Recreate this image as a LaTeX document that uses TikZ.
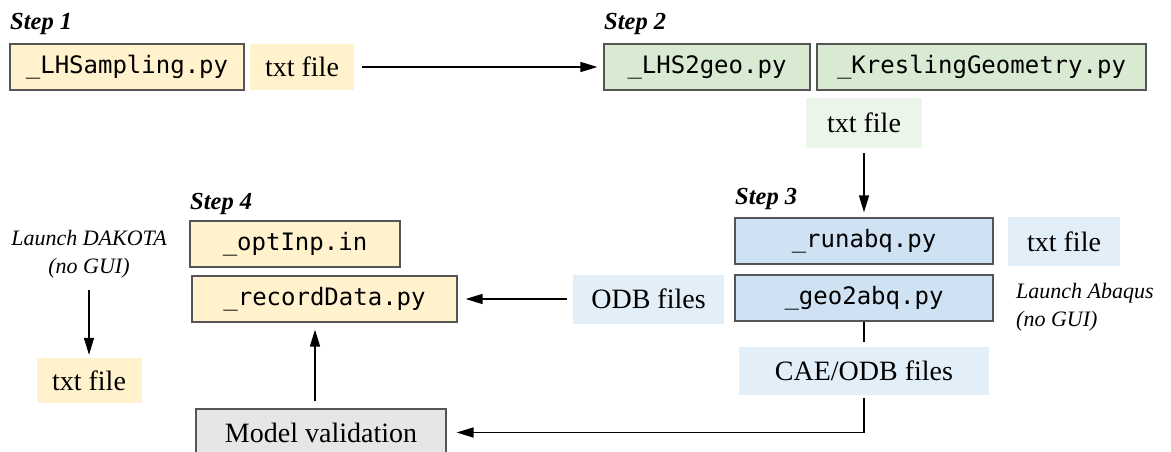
\documentclass[tikz,border=0pt]{standalone}
\usepackage{fontspec}
\setmainfont{Liberation Serif}
\setmonofont{DejaVu Sans Mono}
\usetikzlibrary{arrows.meta}
\definecolor{yelbox}{HTML}{FFF2CC}
\definecolor{yeltxt}{HTML}{FFF2CC}
\definecolor{grnbox}{HTML}{D9EAD3}
\definecolor{grntxt}{HTML}{EBF5E9}
\definecolor{blubox}{HTML}{CFE2F3}
\definecolor{blutxt}{HTML}{E2EEF8}
\definecolor{grybox}{HTML}{E6E6E6}
\definecolor{edgegray}{HTML}{555555}
\begin{document}
\begin{tikzpicture}[x=1pt,y=-1pt,
  codebox/.style={draw=edgegray, line width=1.2pt, inner sep=0pt,
    font=\fontsize{24}{28}\selectfont\ttfamily},
  filebox/.style={inner sep=0pt, font=\fontsize{28}{31}\selectfont},
  conn/.style={line width=1.5pt, -{Triangle[length=17pt,width=10pt]}},
  plainline/.style={line width=1.5pt},
  steplabel/.style={anchor=base west, inner sep=0pt,
    font=\fontsize{24.5}{28}\selectfont\bfseries\itshape},
  note/.style={inner sep=0pt, font=\fontsize{22}{28}\selectfont\itshape}
]
\useasboundingbox (0,0) rectangle (1171,452);

% Step 1
\node[steplabel] (s1) at (10,30) {Step 1};
\node[codebox, fill=yelbox, minimum width=234, minimum height=46] (lhs) at (127,67) {\_LHSampling.py};
\node[filebox, fill=yeltxt, minimum width=104, minimum height=46] (txt1) at (302,67) {txt file};

% Step 2
\node[steplabel] (s2) at (604,30) {Step 2};
\node[codebox, fill=grnbox, minimum width=206, minimum height=46] (geo) at (707,67) {\_LHS2geo.py};
\node[codebox, fill=grnbox, minimum width=329, minimum height=46] (kres) at (981.5,67) {\_KreslingGeometry.py};
\node[filebox, fill=grntxt, minimum width=116, minimum height=50] (txt2) at (864,123) {txt file};

% Step 3
\node[steplabel] (s3) at (735,204) {Step 3};
\node[codebox, fill=blubox, minimum width=258, minimum height=46] (run) at (864,241) {\_runabq.py};
\node[filebox, fill=blutxt, minimum width=112, minimum height=49] (txt3) at (1064,241.5) {txt file};
\node[codebox, fill=blubox, minimum width=258, minimum height=46] (g2a) at (864,298) {\_geo2abq.py};
\node[note, anchor=north west, align=left] (abq) at (1016,283) {Launch Abaqus\\(no GUI)};
\node[filebox, fill=blutxt, minimum width=151, minimum height=49] (odb) at (648.5,299) {ODB files};
\node[filebox, fill=blutxt, minimum width=250, minimum height=48] (cae) at (864,371) {CAE/ODB files};

% Step 4
\node[steplabel] (s4) at (190,209) {Step 4};
\node[codebox, fill=yelbox, minimum width=210, minimum height=46] (opt) at (295,244) {\_optInp.in};
\node[codebox, fill=yelbox, minimum width=265, minimum height=46] (rec) at (324.5,299) {\_recordData.py};
\node[codebox, fill=grybox, minimum width=250, minimum height=47,
  font=\fontsize{28}{31}\selectfont\rmfamily] (val) at (321,432.5) {Model validation};
\node[note, align=center] (dak) at (89,254) {Launch DAKOTA\\(no GUI)};
\node[filebox, fill=yeltxt, minimum width=105, minimum height=45] (txt4) at (89,380.5) {txt file};

% connectors
\draw[conn, shorten <=8pt, shorten >=6pt] (txt1) -- (geo);
\draw[conn, shorten <=5pt, shorten >=5pt] (txt2) -- (run);
\draw[plainline, shorten >=5pt] (g2a) -- (cae);
\draw[conn, shorten <=3pt, shorten >=10pt] (cae.south) |- (val.east);
\draw[conn, shorten <=6pt, shorten >=8pt] (odb) -- (rec);
\draw[conn, shorten <=7pt, shorten >=7pt] ([xshift=-6pt]val.north) -- ([xshift=-9.5pt]rec.south);
\draw[conn, shorten <=12pt, shorten >=3pt] (dak.south) -- (txt4.north);
\end{tikzpicture}
\end{document}
